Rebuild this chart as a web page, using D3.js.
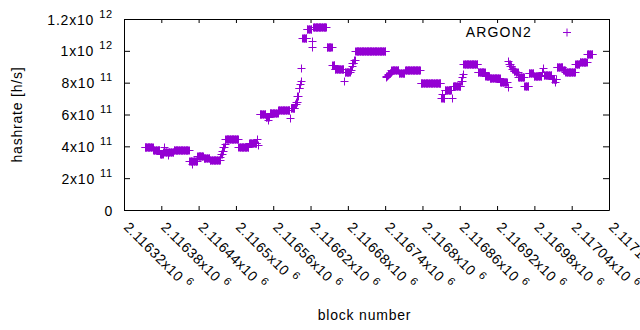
<!DOCTYPE html>
<html>
<head>
<meta charset="utf-8">
<script src="https://cdn.jsdelivr.net/npm/d3@7"></script>
<style>
    body { margin: 0; background: #fff; }
    text { font-family: "Liberation Sans", Arial, sans-serif; font-size: 14px; fill: #000; letter-spacing: 0.8px; }
</style>
</head>
<body>
<div id="chart"></div>
<script>
// runs of consecutive blocks that share one hashrate
var runStart = [2116353, 2116367, 2116378, 2116383, 2116385, 2116386, 2116390, 2116391, 2116400, 2116425,
    2116429, 2116430, 2116438, 2116448, 2116458, 2116475, 2116476, 2116478, 2116480, 2116482,
    2116483, 2116504, 2116521, 2116534, 2116535, 2116538, 2116548, 2116551, 2116552, 2116554,
    2116568, 2116587, 2116588, 2116595, 2116597, 2116599, 2116601, 2116603, 2116604, 2116605,
    2116607, 2116614, 2116622, 2116623, 2116624, 2116646, 2116655, 2116659, 2116674, 2116675,
    2116684, 2116686, 2116687, 2116690, 2116692, 2116741, 2116742, 2116744, 2116745, 2116747,
    2116749, 2116750, 2116762, 2116772, 2116797, 2116830, 2116831, 2116832, 2116836, 2116847,
    2116849, 2116862, 2116864, 2116865, 2116866, 2116889, 2116901, 2116908, 2116925, 2116937,
    2116938, 2116939, 2116941, 2116944, 2116947, 2116950, 2116954, 2116964, 2116971, 2116979,
    2116992, 2116994, 2116995, 2117008, 2117013, 2117014, 2117016, 2117026, 2117030, 2117046,
    2117053, 2117065]
var runEnd = [2116366, 2116377, 2116382, 2116384, 2116385, 2116389, 2116390, 2116399, 2116424, 2116428,
    2116429, 2116437, 2116447, 2116457, 2116474, 2116475, 2116477, 2116479, 2116481, 2116482,
    2116503, 2116520, 2116533, 2116534, 2116535, 2116547, 2116550, 2116551, 2116553, 2116567,
    2116586, 2116587, 2116594, 2116596, 2116598, 2116600, 2116602, 2116603, 2116604, 2116605,
    2116613, 2116621, 2116622, 2116623, 2116645, 2116654, 2116658, 2116673, 2116674, 2116683,
    2116685, 2116686, 2116689, 2116691, 2116740, 2116741, 2116743, 2116744, 2116746, 2116748,
    2116749, 2116761, 2116771, 2116796, 2116829, 2116830, 2116831, 2116835, 2116846, 2116847,
    2116861, 2116863, 2116864, 2116865, 2116888, 2116900, 2116907, 2116924, 2116936, 2116937,
    2116938, 2116940, 2116943, 2116946, 2116949, 2116953, 2116963, 2116970, 2116978, 2116991,
    2116993, 2116994, 2117007, 2117012, 2117013, 2117015, 2117025, 2117029, 2117045, 2117052,
    2117064, 2117073]
var runRate = [3.94e11, 3.75e11, 3.54e11, 3.64e11, 3.96e11, 3.64e11, 3.46e11, 3.64e11, 3.74e11, 3.08e11,
    2.87e11, 3.08e11, 3.39e11, 3.25e11, 3.13e11, 3.33e11, 3.52e11, 3.71e11, 3.93e11, 4.15e11,
    4.44e11, 3.94e11, 4.23e11, 4.46e11, 4.08e11, 6.03e11, 5.82e11, 5.65e11, 5.82e11, 6.08e11,
    6.26e11, 5.76e11, 6.42e11, 6.66e11, 6.80e11, 7.16e11, 7.65e11, 7.90e11, 8.90e11, 8.10e11,
    1.079e12, 1.137e12, 1.064e12, 1.022e12, 1.148e12, 1.022e12, 9.11e11, 8.84e11, 8.10e11, 8.69e11,
    8.80e11, 9.05e11, 9.24e11, 9.42e11, 9.96e11, 8.36e11, 8.42e11, 8.48e11, 8.55e11, 8.61e11,
    8.67e11, 8.77e11, 8.63e11, 8.78e11, 7.96e11, 7.02e11, 7.29e11, 7.04e11, 7.57e11, 7.02e11,
    7.79e11, 8.12e11, 8.37e11, 8.53e11, 9.17e11, 8.64e11, 8.45e11, 8.27e11, 8.06e11, 9.36e11,
    7.73e11, 9.20e11, 9.05e11, 8.89e11, 8.76e11, 8.64e11, 8.34e11, 7.82e11, 8.59e11, 8.40e11,
    8.70e11, 8.90e11, 8.46e11, 8.26e11, 8.04e11, 8.26e11, 8.97e11, 8.77e11, 8.69e11, 9.20e11,
    9.32e11, 9.78e11]

var xTicks = [2116320, 2116380, 2116440, 2116500, 2116560, 2116620, 2116680,
    2116740, 2116800, 2116860, 2116920, 2116980, 2117040, 2117100]
var xTickLabels = ['2.11632', '2.11638', '2.11644', '2.1165', '2.11656', '2.11662', '2.11668',
    '2.11674', '2.1168', '2.11686', '2.11692', '2.11698', '2.11704', '2.1171']
var yTicks = [0, 2e11, 4e11, 6e11, 8e11, 1e12, 1.2e12]
var yTickLabels = ['0', '2', '4', '6', '8', '1', '1.2']
var yTickExps = ['', '11', '11', '11', '11', '12', '12']

var seriesName = 'ARGON2'
var color = '#9400d3'

var svgWidth = 640,
    svgHeight = 330
var plotLeft = 124, plotRight = 609, plotTop = 19, plotBottom = 210

var svg = d3.select('#chart').append('svg')
    .attr('width', svgWidth)
    .attr('height', svgHeight)

var xScale = d3.scaleLinear()
    .domain([2116320, 2117100])
    .range([plotLeft, plotRight])
var yScale = d3.scaleLinear()
    .domain([0, 1.2e12])
    .range([plotBottom, plotTop])

// expand the runs to one point per block
var points = []
runStart.forEach(function (s, i) {
    for (var b = s; b <= runEnd[i]; b++) points.push({ block: b, rate: runRate[i] })
})

// points as gnuplot "+" marks
var arm = 3.5
svg.append('g')
    .selectAll('path')
    .data(points)
    .join('path')
    .attr('fill', 'none')
    .attr('stroke', color)
    .attr('stroke-width', 1)
    .attr('d', function (d) {
        var cx = Math.round(xScale(d.block)) + 0.5,
            cy = Math.round(yScale(d.rate)) + 0.5
        return 'M' + (cx - arm - 0.5) + ',' + cy + 'H' + (cx + arm + 0.5) +
            'M' + cx + ',' + (cy - arm - 0.5) + 'V' + (cy + arm + 0.5)
    })

// axes with inward, mirrored ticks
function styleAxis(g) {
    g.selectAll('path, line').attr('stroke', '#000')
    g.selectAll('text').remove()
}
svg.append('g').attr('transform', 'translate(0,' + plotBottom + ')')
    .call(d3.axisBottom(xScale).tickValues(xTicks).tickSizeInner(-4).tickSizeOuter(0).tickFormat(''))
    .call(styleAxis)
svg.append('g').attr('transform', 'translate(0,' + plotTop + ')')
    .call(d3.axisTop(xScale).tickValues(xTicks).tickSizeInner(-4).tickSizeOuter(0).tickFormat(''))
    .call(styleAxis)
svg.append('g').attr('transform', 'translate(' + plotLeft + ',0)')
    .call(d3.axisLeft(yScale).tickValues(yTicks).tickSizeInner(-6).tickSizeOuter(0).tickFormat(''))
    .call(styleAxis)
svg.append('g').attr('transform', 'translate(' + plotRight + ',0)')
    .call(d3.axisRight(yScale).tickValues(yTicks).tickSizeInner(-6).tickSizeOuter(0).tickFormat(''))
    .call(styleAxis)

// y tick labels  (mantissa x10 with superscript exponent)
yTicks.forEach(function (v, i) {
    var t = svg.append('text')
        .attr('x', 113)
        .attr('y', yScale(v) + 5.5)
        .attr('text-anchor', 'end')
    if (yTickExps[i]) {
        t.append('tspan').text(yTickLabels[i] + 'x10')
        t.append('tspan').attr('dx', 5).attr('dy', -7).style('font-size', '11px').text(yTickExps[i])
    } else {
        t.text(yTickLabels[i])
    }
})

// x tick labels, rotated (the last one runs off the right edge, as in the original)
xTicks.forEach(function (v, i) {
    var t = svg.append('text')
        .attr('transform', 'translate(' + (xScale(v) - 1) + ',228) rotate(45)')
        .style('letter-spacing', '0.5px')
    t.append('tspan').text(xTickLabels[i] + 'x10')
    t.append('tspan').attr('dx', 5).attr('dy', -6).style('font-size', '11px').text('6')
})

// axis titles
svg.append('text')
    .attr('text-anchor', 'middle')
    .attr('transform', 'translate(22,' + ((plotTop + plotBottom) / 2) + ') rotate(-90)')
    .text('hashrate [h/s]')
svg.append('text')
    .attr('text-anchor', 'middle')
    .attr('x', (plotLeft + plotRight) / 2 - 2)
    .attr('y', 320)
    .text('block number')

// legend
svg.append('text')
    .attr('text-anchor', 'end')
    .attr('x', 532)
    .attr('y', 37)
    .style('letter-spacing', '1.2px')
    .text(seriesName)
svg.append('path')
    .attr('fill', 'none')
    .attr('stroke', color)
    .attr('d', 'M563,32.5H571M567,28.5V36.5')
</script>
</body>
</html>
